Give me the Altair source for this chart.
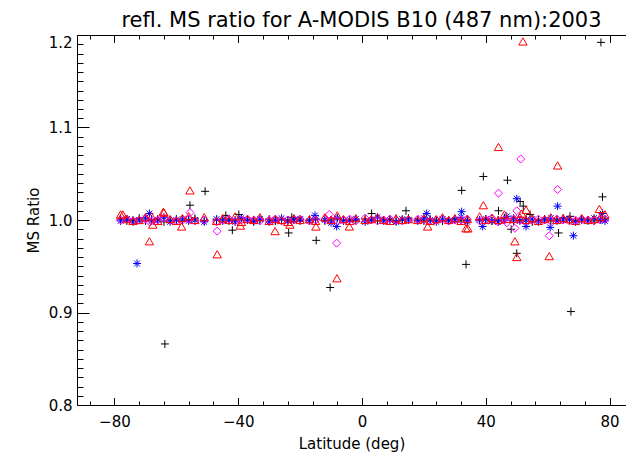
import altair as alt
import pandas as pd

# ---------------- data ----------------
lat_band = [-78, -76, -74, -72, -70, -68, -66, -64, -62, -60, -58, -56, -54, -51,
            -47, -45, -43, -41, -39, -37, -35, -33, -30, -28, -26, -24, -22, -20,
            -17, -15, -12, -10, -8, -6, -4, -2, 1, 3, 5, 7, 9, 11, 13, 15,
            18, 20, 22, 24, 26, 28, 30, 32, 34, 38, 40, 42, 44, 46, 49, 51,
            53, 55, 57, 59, 61, 63, 65, 67, 69, 71, 73, 75, 77, 78.5]

black_band = [1.001, 0.999, 1.000, 1.002, 0.999, 1.000, 1.001, 0.998, 1.000, 1.001, 0.999, 1.000, 1.002, 0.999,
              1.000, 1.001, 0.999, 1.000, 1.002, 1.000, 0.998, 1.000, 1.001, 0.999, 1.000, 1.000, 1.001, 0.999,
              1.000, 1.001, 0.999, 1.000, 1.002, 1.000, 0.999, 1.000, 1.001, 1.000, 0.999, 1.000, 1.001, 0.999, 1.000, 1.002,
              1.000, 0.999, 1.001, 1.000, 0.999, 1.000, 1.001, 0.999, 1.000, 1.000, 1.001, 0.999, 1.000, 1.002, 0.999, 1.000,
              1.001, 0.998, 1.000, 1.001, 0.999, 1.000, 1.002, 1.000, 0.999, 1.001, 1.000, 0.999, 1.000, 1.001]
blue_band = [0.999, 1.001, 0.998, 1.000, 1.002, 0.999, 1.000, 1.003, 0.998, 1.000, 1.001, 0.999, 1.000, 0.998,
             1.001, 0.999, 1.000, 0.998, 1.002, 1.000, 0.999, 1.001, 0.998, 1.000, 1.002, 0.999, 1.000, 1.001,
             0.999, 1.001, 1.000, 0.997, 1.002, 0.999, 1.000, 1.001, 0.998, 1.000, 1.003, 0.999, 1.000, 0.998, 1.001, 1.000,
             0.999, 1.002, 1.000, 0.998, 1.001, 0.999, 1.000, 1.003, 0.998, 1.000, 1.001, 0.999, 0.998, 1.000, 1.002, 0.999,
             1.000, 1.001, 0.998, 1.000, 1.002, 0.999, 1.000, 1.001, 0.998, 1.000, 0.999, 1.002, 1.000, 0.999]
magenta_band = [1.000, 1.001, 0.999, 1.000, 1.001, 0.999, 1.000, 1.002, 1.000, 0.999, 1.000, 1.001, 0.999, 1.000,
                0.998, 1.000, 1.001, 0.999, 1.000, 1.001, 1.000, 0.999, 1.000, 1.001, 0.999, 1.000, 1.000, 1.001,
                0.999, 1.000, 1.001, 1.000, 0.999, 1.000, 1.001, 0.999, 1.002, 1.000, 0.999, 1.000, 1.001, 1.000, 0.999, 1.000,
                1.001, 1.000, 0.999, 1.000, 1.001, 0.999, 1.000, 1.000, 1.001, 0.999, 1.000, 1.002, 0.998, 1.000, 1.001, 1.000,
                0.999, 1.000, 1.001, 1.000, 0.999, 1.001, 1.000, 0.999, 1.000, 1.001, 1.000, 0.999, 1.000, 1.001]
red_band = [1.006, 1.001, 0.999, 1.000, 1.003, 1.004, 0.999, 1.008, 1.001, 0.999, 1.002, 1.004, 1.000, 1.003,
            0.999, 1.002, 1.000, 1.004, 0.998, 1.001, 1.000, 1.003, 0.999, 1.001, 1.000, 0.998, 1.002, 1.000,
            1.001, 0.999, 1.003, 1.000, 1.005, 1.001, 0.999, 1.002, 1.000, 1.001, 1.003, 1.000, 0.999, 1.002, 1.000, 1.001,
            1.000, 1.002, 0.999, 1.001, 1.003, 1.000, 1.002, 0.999, 1.001, 1.004, 1.000, 1.002, 1.000, 1.006, 1.001, 1.003,
            1.000, 1.002, 0.999, 1.001, 1.003, 1.000, 1.002, 1.001, 0.999, 1.002, 1.000, 1.001, 1.003, 1.006]

black_out_lat = [-63.7, -55.6, -50.7, -44.0, -41.9, -39.8, -23.7, -22.7, -14.8, -10.3, 3.1, 14.2, 32.2,
                 33.6, 39.2, 44.1, 47.0, 48.2, 50.0, 51.1, 52.1, 54.3, 63.5, 67.2, 67.5, 77.2, 77.7]
black_out_val = [0.866, 1.016, 1.031, 1.005, 0.989, 1.006, 0.986, 1.003, 0.978, 0.927, 1.007, 1.010, 1.032,
                 0.952, 1.047, 1.010, 1.043, 0.990, 0.964, 1.020, 1.015, 1.006, 0.986, 1.004, 0.901, 1.192, 1.025]

blue_out_lat = [-72.7, -68.7, -15.2, -8.2, 20.9, 32.2, 39.0, 46.8, 50.0, 53.0, 60.8, 63.2, 68.3, 77.7]
blue_out_val = [0.953, 1.007, 1.005, 0.993, 1.007, 1.009, 0.993, 1.004, 1.023, 0.993, 0.992, 1.015, 0.983, 1.007]

magenta_out_lat = [-68.7, -55.6, -46.8, -10.6, -8.2, 44.1, 46.8, 49.4, 50.0, 51.3, 60.5, 63.2]
magenta_out_val = [0.998, 1.008, 0.988, 1.006, 0.975, 1.029, 0.997, 0.991, 1.010, 1.066, 0.983, 1.033]

red_out_lat = [-77.3, -68.7, -67.6, -64.2, -58.3, -55.6, -46.8, -39.3, -28.1, -23.3, -14.9, -8.1, -4.1,
               21.2, 33.6, 34.2, 39.2, 44.1, 46.8, 49.4, 50.0, 51.6, 52.0, 53.0, 60.5, 63.2, 76.7]
red_out_val = [1.006, 0.977, 0.995, 1.009, 0.993, 1.032, 0.963, 0.994, 0.988, 0.995, 0.993, 0.937, 0.993,
               0.993, 0.991, 0.991, 1.016, 1.079, 1.001, 0.977, 0.960, 1.007, 1.193, 1.011, 0.961, 1.059, 1.012]

x_major = [-80, -40, 0, 40, 80]
x_minor = [-88, -72, -64, -56, -48, -32, -24, -16, -8, 8, 16, 24, 32, 48, 56, 64, 72]
y_major = [0.8, 0.9, 1.0, 1.1, 1.2]
y_minor = [0.81, 0.82, 0.83, 0.84, 0.85, 0.86, 0.87, 0.88, 0.89,
           0.91, 0.92, 0.93, 0.94, 0.95, 0.96, 0.97, 0.98, 0.99,
           1.01, 1.02, 1.03, 1.04, 1.05, 1.06, 1.07, 1.08, 1.09,
           1.11, 1.12, 1.13, 1.14, 1.15, 1.16, 1.17, 1.18, 1.19]

title_text = "refl. MS ratio for A-MODIS B10 (487 nm):2003"

# ---------------- table ----------------
rows = []
def add(series, lats, vals):
    for la, v in zip(lats, vals):
        rows.append({"lat": la, "ratio": v, "series": series})

add("black", lat_band, black_band)
add("black", black_out_lat, black_out_val)
add("blue", lat_band, blue_band)
add("blue", blue_out_lat, blue_out_val)
add("magenta", lat_band, magenta_band)
add("magenta", magenta_out_lat, magenta_out_val)
add("red", lat_band, red_band)
add("red", red_out_lat, red_out_val)
df = pd.DataFrame(rows)

x_scale = alt.Scale(domain=[-92.1, 85.3], nice=False, zero=False)
y_scale = alt.Scale(domain=[0.8, 1.2], nice=False, zero=False)

PLUS = "M-1,0L1,0M0,-1L0,1"
STAR = "M-1,0L1,0M0,-1L0,1M-0.72,-0.72L0.72,0.72M-0.72,0.72L0.72,-0.72"

base = alt.Chart(df)


def axis_layer(xaxis, yaxis):
    return base.mark_point(opacity=0, size=1).encode(
        x=alt.X("lat:Q", scale=x_scale, axis=xaxis),
        y=alt.Y("ratio:Q", scale=y_scale, axis=yaxis),
    )


layer_labels = axis_layer(
    alt.Axis(orient="bottom", values=x_major, format="d", ticks=False, domain=True,
             labelPadding=9, title="Latitude (deg)", titlePadding=7),
    alt.Axis(orient="left", values=y_major, format=".1f", ticks=False, domain=True,
             labelPadding=5, title="MS Ratio", titlePadding=7,
             labelBaseline={"condition": {"test": "datum.value > 1.15", "value": "top"}, "value": "middle"}),
)
layer_major = axis_layer(
    alt.Axis(orient="bottom", values=x_major, labels=False, domain=False, tickSize={"expr": "-7.5"}, title=None),
    alt.Axis(orient="left", values=y_major, labels=False, domain=False, tickSize={"expr": "-12"}, title=None),
)
layer_minor = axis_layer(
    alt.Axis(orient="bottom", values=x_minor, labels=False, domain=False, tickSize={"expr": "-4"}, title=None),
    alt.Axis(orient="left", values=y_minor, labels=False, domain=False, tickSize={"expr": "-6"}, title=None),
)
layer_top_major = axis_layer(
    alt.Axis(orient="top", values=x_major, labels=False, domain=True, tickSize={"expr": "-7.5"}, title=None),
    None,
)
layer_top_minor = axis_layer(
    alt.Axis(orient="top", values=x_minor, labels=False, domain=False, tickSize={"expr": "-4"}, title=None),
    None,
)


def pts(series, shape, color, size):
    return base.transform_filter(alt.datum.series == series).mark_point(
        shape=shape, filled=False, stroke=color, strokeWidth=1, size=size, opacity=1
    ).encode(
        x=alt.X("lat:Q", scale=x_scale, axis=None),
        y=alt.Y("ratio:Q", scale=y_scale, axis=None),
    )


chart = alt.layer(
    layer_labels, layer_major, layer_minor, layer_top_major, layer_top_minor,
    pts("black", PLUS, "#000000", 64),
    pts("blue", STAR, "#0000ff", 64),
    pts("magenta", "diamond", "#ff00ff", 64),
    pts("red", "triangle-up", "#ff0000", 70),
).resolve_axis(x="independent", y="independent").properties(
    width=549,
    height=370,
    padding={"left": 69, "top": 27, "right": 0, "bottom": 50},
    autosize=alt.AutoSizeParams(type="none"),
    background="white",
    title=alt.TitleParams(text=title_text, font="DejaVu Sans", fontSize=21, fontWeight="normal",
                          color="black", anchor="middle", dx=10, offset=4),
).configure_view(stroke=None).configure_axis(
    grid=False, domainColor="black", tickColor="black", labelColor="black", titleColor="black",
    labelFont="DejaVu Sans", titleFont="DejaVu Sans", labelFontSize=15, titleFontSize=15,
    titleFontWeight="normal", domainWidth=1, tickWidth=1,
)

chart.save("out.html", embed_options={"renderer": "svg", "actions": False})
